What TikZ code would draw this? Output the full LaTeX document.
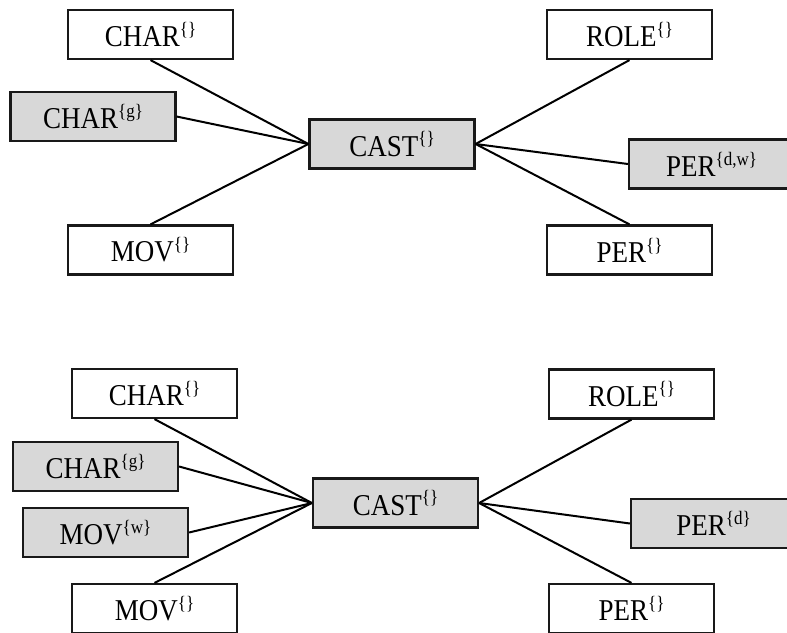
\documentclass[tikz,border=0pt]{standalone}
\usepackage{fontspec}
\setmainfont{Liberation Serif}
\definecolor{boxgray}{RGB}{216,216,216}
% superscript attribute sets, set in a smaller text font
\newcommand{\attrs}[1]{\raisebox{10pt}{\fontsize{17}{17}\selectfont #1}}
% relation labels are set slightly taller than wide
\newcommand{\rlabel}[1]{\scalebox{1}[1.12]{#1}}
\tikzset{
  rel/.style={draw=black!90, line width=2.2pt, rectangle, inner sep=0pt,
    minimum width=165pt, minimum height=49pt,
    font=\fontsize{27}{27}\selectfont},
  relg/.style={rel, fill=boxgray},
  link/.style={line width=2pt, black},
}
\begin{document}
\begin{tikzpicture}[x=1pt, y=-1pt]
\useasboundingbox (0,0) rectangle (787,632);
\clip (0,0) rectangle (787,632);

% ---- upper query graph ----
\node[relg] (castA) at (392,144)   {\rlabel{CAST\attrs{\{\}}}};
\node[rel]  (charA) at (150.5,34.5) {\rlabel{CHAR\attrs{\{\}}}};
\node[relg] (chargA) at (93,116.5) {\rlabel{CHAR\attrs{\{g\}}}};
\node[rel]  (movA) at (150.5,250)  {\rlabel{MOV\attrs{\{\}}}};
\node[rel]  (roleA) at (629.5,34.5) {\rlabel{ROLE\attrs{\{\}}}};
\node[relg] (perdwA) at (711.5,164) {\rlabel{PER\attrs{\{d,w\}}}};
\node[rel]  (perA) at (629.5,250)  {\rlabel{PER\attrs{\{\}}}};

\draw[link] (charA.south) -- (castA.west);
\draw[link] (chargA.east) -- (castA.west);
\draw[link] (movA.north) -- (castA.west);
\draw[link] (roleA.south) -- (castA.east);
\draw[link] (perdwA.west) -- (castA.east);
\draw[link] (perA.north) -- (castA.east);

% ---- lower query graph ----
\node[relg] (castB) at (395.5,503) {\rlabel{CAST\attrs{\{\}}}};
\node[rel]  (charB) at (154.5,393.5) {\rlabel{CHAR\attrs{\{\}}}};
\node[relg] (chargB) at (95.5,466.5) {\rlabel{CHAR\attrs{\{g\}}}};
\node[relg] (movwB) at (105.5,532.5) {\rlabel{MOV\attrs{\{w\}}}};
\node[rel]  (movB) at (154.5,608.5) {\rlabel{MOV\attrs{\{\}}}};
\node[rel]  (roleB) at (631.5,394) {\rlabel{ROLE\attrs{\{\}}}};
\node[relg] (perdB) at (713.5,523.5) {\rlabel{PER\attrs{\{d\}}}};
\node[rel]  (perB) at (631.5,608.5) {\rlabel{PER\attrs{\{\}}}};

\draw[link] (charB.south) -- (castB.west);
\draw[link] (chargB.east) -- (castB.west);
\draw[link] (movwB.east) -- (castB.west);
\draw[link] (movB.north) -- (castB.west);
\draw[link] (roleB.south) -- (castB.east);
\draw[link] (perdB.west) -- (castB.east);
\draw[link] (perB.north) -- (castB.east);
\end{tikzpicture}
\end{document}
